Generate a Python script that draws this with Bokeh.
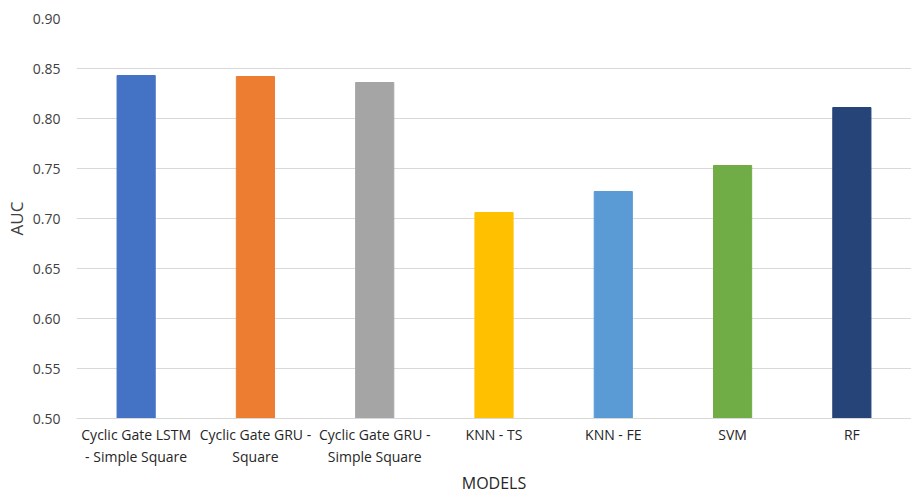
from bokeh.plotting import figure
from bokeh.models import ColumnDataSource, Range1d, SingleIntervalTicker, NumeralTickFormatter, Title
from bokeh.embed import file_html
from bokeh.resources import INLINE

models = [
    "Cyclic Gate LSTM\n- Simple Square",
    "Cyclic Gate GRU -\nSquare",
    "Cyclic Gate GRU -\nSimple Square",
    "KNN - TS",
    "KNN - FE",
    "SVM",
    "RF",
]
auc = [0.843, 0.842, 0.836, 0.706, 0.727, 0.753, 0.811]
colors = ["#4472C4", "#ED7D31", "#A5A5A5", "#FFC000", "#5B9BD5", "#70AD47", "#264478"]

source = ColumnDataSource(data=dict(model=models, auc=auc, color=colors))

FONT = "Open Sans"

p = figure(
    x_range=models,
    y_range=Range1d(0.5, 0.9),
    width=911,
    height=494,
    output_backend="svg",
    toolbar_location=None,
    min_border_left=76,
    min_border_right=0,
    min_border_top=18,
    min_border_bottom=76,
)
p.outline_line_color = None
p.background_fill_color = "white"
p.border_fill_color = "white"

p.vbar(x="model", top="auc", bottom=0.5, width=0.32, color="color", source=source)

# y axis
p.yaxis.ticker = SingleIntervalTicker(interval=0.05)
p.yaxis.formatter = NumeralTickFormatter(format="0.00")
p.yaxis.axis_line_color = None
p.yaxis.major_tick_line_color = None
p.yaxis.minor_tick_line_color = None
p.yaxis.major_label_text_font = FONT
p.yaxis.major_label_text_font_size = "14px"
p.yaxis.major_label_text_color = "#404040"
p.yaxis.major_label_standoff = 10
p.yaxis.axis_label = "AUC"
p.yaxis.axis_label_text_font = FONT
p.yaxis.axis_label_text_font_size = "17px"
p.yaxis.axis_label_text_font_style = "normal"
p.yaxis.axis_label_text_color = "#404040"
p.yaxis.axis_label_standoff = 2

# x axis (category names on two lines)
p.xaxis.axis_line_color = "#D9D9D9"
p.xaxis.axis_line_width = 1
p.xaxis.major_tick_line_color = None
p.xaxis.minor_tick_line_color = None
p.xaxis.major_label_text_font = FONT
p.xaxis.major_label_text_font_size = "14px"
p.xaxis.major_label_text_color = "#262626"
p.xaxis.major_label_standoff = 0

# x axis title placed under the category labels
x_title = Title(
    text="MODELS",
    align="center",
    text_font=FONT,
    text_font_size="16px",
    text_font_style="normal",
    text_color="#262626",
    standoff=0,
    offset=0,
)
p.add_layout(x_title, "below")

p.xgrid.grid_line_color = None
p.ygrid.grid_line_color = "#D9D9D9"
p.ygrid.grid_line_width = 1

open("out.html", "w").write(file_html(p, INLINE))
